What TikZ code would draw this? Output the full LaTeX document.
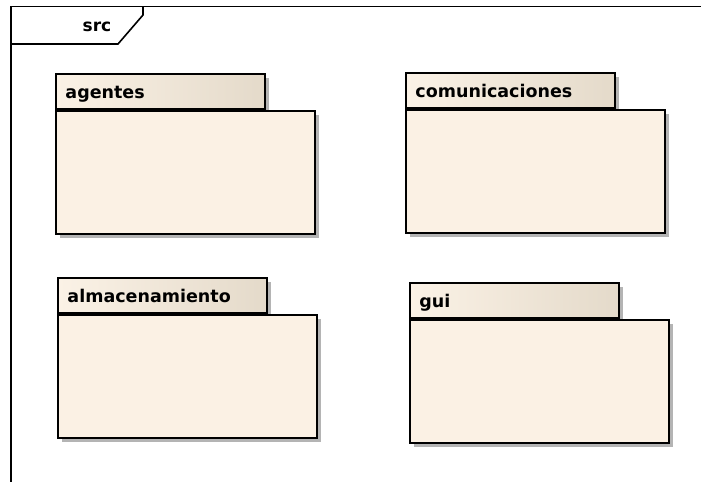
\documentclass[tikz,border=0pt]{standalone}
\usepackage{fontspec}
\setmainfont{DejaVu Sans}
\usetikzlibrary{positioning,shadows}
\definecolor{pkgfill}{HTML}{FBF1E4}
\definecolor{tablight}{HTML}{FBF2E6}
\definecolor{tabdark}{HTML}{E4DACA}
\definecolor{pkgshadow}{HTML}{B4B4B4}

\begin{document}
\begin{tikzpicture}[x=1pt,y=-1pt,
        pkgshade/.style={drop shadow={shadow xshift=4pt, shadow yshift=-4pt, fill=pkgshadow, opacity=1}},
        pkgtab/.style={draw, line width=1.9pt, left color=tablight, right color=tabdark,
            minimum width=209pt, minimum height=35pt, text width=190pt, inner xsep=9pt,
            text height=15pt, text depth=0pt, align=left, anchor=north west,
            font=\bfseries\fontsize{17.5}{19}\selectfont, pkgshade},
        pkgbody/.style={draw, line width=1.9pt, fill=pkgfill, minimum width=259pt,
            minimum height=123pt, anchor=north west, pkgshade}
    ]
        \useasboundingbox (0,0) rectangle (701,482);

        % frame of src
        \draw[line width=1.9pt] (701,6.5) -- (11,6.5) -- (11,482);
        \draw[line width=1.6pt] (11,44) -- (118,44) -- (143,15) -- (143,6.5);
        \node[font=\bfseries\fontsize{17}{19}\selectfont] (src) at (97,27) {src};

        % packages
        \node[pkgtab] (agentes-tab) at (55,73) {agentes};
        \node[pkgbody] (agentes) at (agentes-tab.south west) {};

        \node[pkgtab] (comunicaciones-tab) at (405,72) {comunicaciones};
        \node[pkgbody] (comunicaciones) at (comunicaciones-tab.south west) {};

        \node[pkgtab] (almacenamiento-tab) at (57,277) {almacenamiento};
        \node[pkgbody] (almacenamiento) at (almacenamiento-tab.south west) {};

        \node[pkgtab] (gui-tab) at (409,282) {gui};
        \node[pkgbody] (gui) at (gui-tab.south west) {};
    \end{tikzpicture}
\end{document}
